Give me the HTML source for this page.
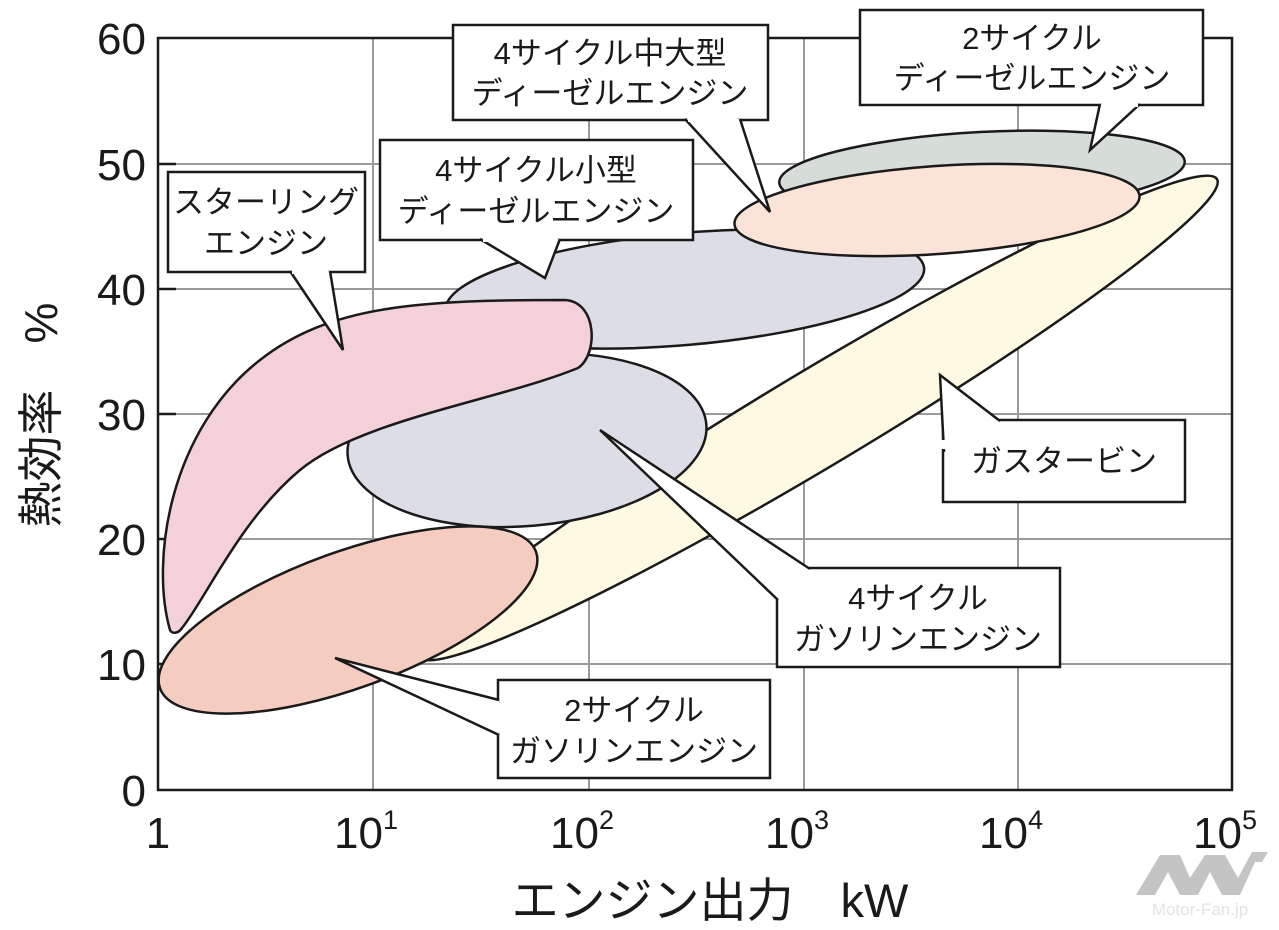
<!DOCTYPE html>
<html><head><meta charset="utf-8"><style>
html,body{margin:0;padding:0;background:#fff}
svg{display:block}
text{font-family:"Liberation Sans","Noto Sans CJK JP",sans-serif;fill:#1a1a1a}
</style></head><body>
<svg width="1279" height="930" viewBox="0 0 1279 930" xmlns="http://www.w3.org/2000/svg">
<g stroke="#9a9a9a" stroke-width="2">
<line x1="373" y1="38" x2="373" y2="790"/><line x1="589" y1="38" x2="589" y2="790"/>
<line x1="804" y1="38" x2="804" y2="790"/><line x1="1018" y1="38" x2="1018" y2="790"/>
<line x1="158" y1="164" x2="1232" y2="164"/><line x1="158" y1="289" x2="1232" y2="289"/>
<line x1="158" y1="414" x2="1232" y2="414"/><line x1="158" y1="539" x2="1232" y2="539"/>
<line x1="158" y1="664" x2="1232" y2="664"/>
</g>
<rect x="158" y="38" width="1074" height="752" fill="none" stroke="#1a1a1a" stroke-width="2.5"/>
<g stroke="#1a1a1a" stroke-width="2.5">
<line x1="158" y1="164" x2="176" y2="164"/><line x1="158" y1="289" x2="176" y2="289"/><line x1="158" y1="414" x2="176" y2="414"/><line x1="158" y1="539" x2="176" y2="539"/><line x1="158" y1="664" x2="176" y2="664"/>
</g>
<g stroke="#1a1a1a" stroke-width="2.5">
<ellipse cx="818" cy="418" rx="465" ry="48" transform="rotate(-30.9 818 418)" fill="#fdf9e3"/>
<ellipse cx="685" cy="289" rx="240" ry="56" transform="rotate(-5 685 289)" fill="#dddde8"/>
<ellipse cx="527" cy="440" rx="180" ry="86" transform="rotate(-5 527 440)" fill="#dddde8"/>
<path d="M170,630 C150,560 170,430 260,360 C330,305 420,300 565,300 C598,302 598,355 578,368 C500,400 360,420 300,470 C240,520 205,600 182,628 C178,634 172,634 170,630 Z" fill="#f4d0d9"/>
<ellipse cx="348" cy="620" rx="200" ry="68" transform="rotate(-20 348 620)" fill="#f5ccc0"/>
<ellipse cx="982" cy="172" rx="203" ry="40" transform="rotate(-3 982 172)" fill="#d6ddd9"/>
<ellipse cx="937" cy="210" rx="203" ry="44" transform="rotate(-4 937 210)" fill="#fbe3d7"/>
</g>
<g stroke="#1a1a1a" stroke-width="2.5" fill="#fff">
<rect x="168" y="172" width="197" height="100"/>
<rect x="380" y="140" width="313" height="100"/>
<rect x="453" y="25" width="315" height="95"/>
<rect x="860" y="10" width="343" height="95"/>
<rect x="943" y="420" width="242" height="82"/>
<rect x="777" y="568" width="283" height="99"/>
<rect x="498" y="680" width="272" height="98"/>
<path d="M290,271 L343,350 L330,271"/>
<path d="M480,239 L545,278 L560,239"/>
<path d="M685,119 L770,212 L740,119"/>
<path d="M1100,104 L1090,150 L1140,104"/>
<path d="M1000,421 L940,375 L944,452"/>
<path d="M778,600 L600,430 L810,569"/>
<path d="M499,700 L335,658 L499,735"/>
</g>
<g stroke="#fff" stroke-width="4">
<line x1="292" y1="272" x2="328" y2="272"/><line x1="483" y1="240" x2="557" y2="240"/>
<line x1="688" y1="120" x2="737" y2="120"/><line x1="1102" y1="105" x2="1138" y2="105"/>
<line x1="943" y1="440" x2="943" y2="449"/><line x1="499" y1="703" x2="499" y2="732"/>
</g>
<g font-size="31" text-anchor="middle">
<text x="266" y="213">スターリング</text><text x="266" y="254">エンジン</text>
<text x="536" y="181">4サイクル小型</text><text x="536" y="222">ディーゼルエンジン</text>
<text x="610" y="64">4サイクル中大型</text><text x="610" y="104">ディーゼルエンジン</text>
<text x="1032" y="49">2サイクル</text><text x="1032" y="89">ディーゼルエンジン</text>
<text x="1064" y="472">ガスタービン</text>
<text x="918" y="609">4サイクル</text><text x="918" y="650">ガソリンエンジン</text>
<text x="634" y="721">2サイクル</text><text x="634" y="762">ガソリンエンジン</text>
</g>
<g font-size="44" text-anchor="end">
<text x="146" y="54">60</text><text x="146" y="180">50</text><text x="146" y="305">40</text>
<text x="146" y="430">30</text><text x="146" y="555">20</text><text x="146" y="680">10</text><text x="146" y="806">0</text>
</g>
<g font-size="44" text-anchor="middle">
<text x="158" y="848">1</text>
<text x="366" y="848">10<tspan font-size="27" dy="-19">1</tspan></text>
<text x="582" y="848">10<tspan font-size="27" dy="-19">2</tspan></text>
<text x="797" y="848">10<tspan font-size="27" dy="-19">3</tspan></text>
<text x="1011" y="848">10<tspan font-size="27" dy="-19">4</tspan></text>
<text x="1225" y="848">10<tspan font-size="27" dy="-19">5</tspan></text>
</g>
<text x="710" y="917" font-size="47" text-anchor="middle">エンジン出力　kW</text>
<text transform="translate(57 415) rotate(-90)" font-size="46" text-anchor="middle">熱効率　%</text>
<g fill="#c4c4c4">
<path d="M1136,895 L1160,855 L1180,855 L1190,878 L1205,855 L1225,855 L1238,878 L1252,852 L1268,852 L1262,862 L1255,862 L1240,895 L1222,895 L1210,872 L1198,895 L1180,895 L1168,872 L1155,895 Z"/>
</g>
<text x="1200" y="915" font-size="17" text-anchor="middle" style="fill:#e3e3e3">Motor-Fan.jp</text>
</svg>
</body></html>
